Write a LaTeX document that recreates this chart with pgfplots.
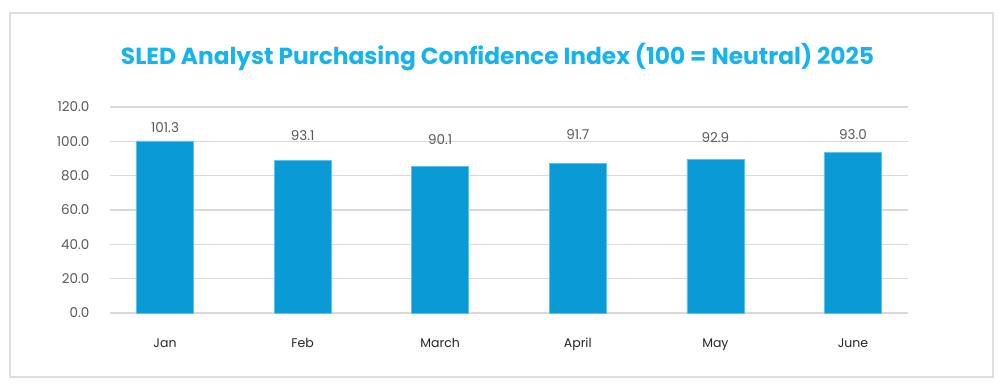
\documentclass[border=0pt]{standalone}
\usepackage{pgfplots}
\pgfplotsset{compat=1.18}
\usepackage{fontspec}
\setmainfont{Poppins}
\definecolor{barblue}{HTML}{0A9BD6}
\definecolor{baredge}{HTML}{5EC2EC}
\definecolor{titleblue}{HTML}{16B4EC}
\definecolor{gridgray}{HTML}{D9D9D9}
\definecolor{boxgray}{HTML}{DEDEDE}
\definecolor{ticktext}{HTML}{595959}
\definecolor{cattext}{HTML}{262626}
\begin{document}
\begin{tikzpicture}[x=1pt,y=1pt]
\useasboundingbox (0,0) rectangle (1003,390);
\fill[white] (0,0) rectangle (1003,390);
\draw[boxgray, line width=1.2pt] (10,13) rectangle (993,377);
\node[anchor=center, text=titleblue, font=\bfseries\fontsize{23.3}{26}\selectfont] at (497.5,333) {SLED Analyst Purchasing Confidence Index (100 = Neutral) 2025};
\begin{axis}[
  at={(110pt,77pt)}, anchor=south west,
  scale only axis, width=798pt, height=206pt,
  xmin=-0.4, xmax=5.4, ymin=0, ymax=120,
  xtick={0,1,2,3,4,5},
  xticklabels={Jan,Feb,March,April,May,June},
  ytick={0,20,40,60,80,100,120},
  ymajorgrids, grid style={gridgray, line width=1.2pt},
  axis line style={draw=none},
  major tick style={draw=none},
  yticklabel style={text=ticktext, font=\fontsize{13.5}{15}\selectfont, xshift=-17pt},
  xticklabel style={text=cattext, font=\fontsize{12.5}{14}\selectfont, text height=9pt, text depth=3pt, yshift=-22pt},
  /pgf/number format/assume math mode=true,
  yticklabel={\pgfmathprintnumber[fixed, fixed zerofill, precision=1]{\tick}},
  clip=false,
]
\addplot[ybar, bar width=57pt, fill=barblue, draw=baredge, line width=0.6pt] coordinates {
  (0,100.3) (1,88.8) (2,85.3) (3,87.3) (4,89.6) (5,93.5)
};
\addplot[draw=none, mark=none, point meta=explicit symbolic,
  nodes near coords,
  nodes near coords style={anchor=center, text=ticktext, font=\fontsize{13.5}{15}\selectfont}]
  table[meta=lab] {
x y lab
0 107.9 101.3
1 103.2 93.1
2 100.9 90.1
3 104.1 91.7
4 102.3 92.9
5 104.1 93.0
};
\end{axis}
\end{tikzpicture}
\end{document}
